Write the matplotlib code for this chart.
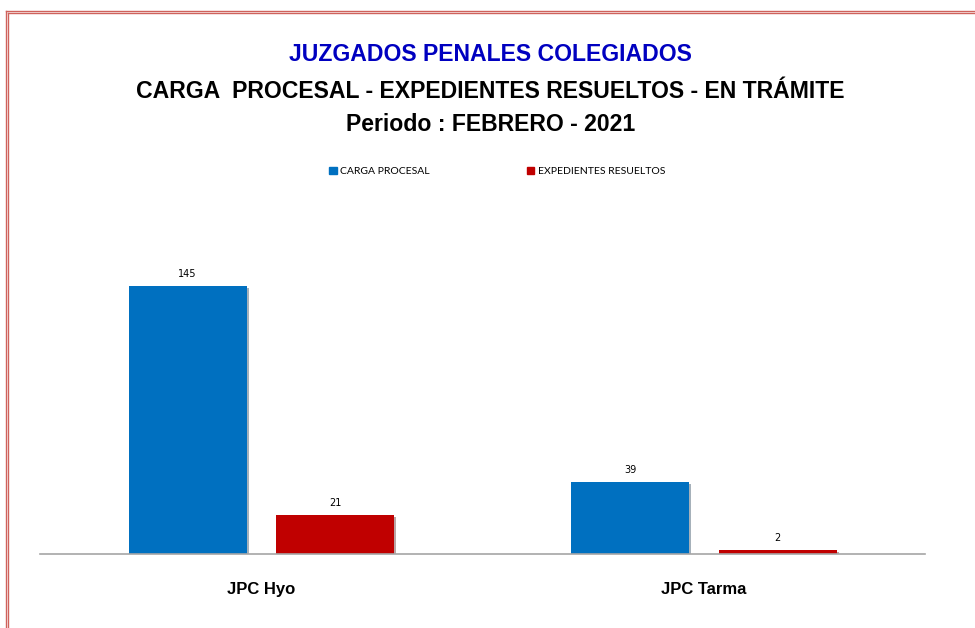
import matplotlib.pyplot as plt
import matplotlib.patheffects as pe
from matplotlib.lines import Line2D
from matplotlib.patches import Patch
import numpy as np

categories = ["JPC Hyo", "JPC Tarma"]
carga_procesal = [145, 39]
expedientes_resueltos = [21, 2]
series_names = ["CARGA PROCESAL", "EXPEDIENTES RESUELTOS"]

blue = "#0070C0"
red = "#C00000"

fig = plt.figure(figsize=(9.75, 6.28), dpi=100)
ax = fig.add_axes([0.041, 0.118, 0.908, 0.571])

x = np.arange(len(categories))
width = 0.267
offset = 0.1665
shadow = [pe.SimplePatchShadow(offset=(1.5, -1.5), alpha=0.35), pe.Normal()]

b1 = ax.bar(x - offset, carga_procesal, width, color=blue, path_effects=shadow)
b2 = ax.bar(x + offset, expedientes_resueltos, width, color=red, path_effects=shadow)

for bars in (b1, b2):
    for rect in bars:
        h = rect.get_height()
        ax.annotate(f"{h:g}", (rect.get_x() + rect.get_width() / 2, h),
                    xytext=(0, 5), textcoords="offset points",
                    ha="center", va="bottom", fontsize=7, family="DejaVu Sans")

ax.set_xlim(-0.5, 1.5)
ax.set_ylim(0, 194)
ax.set_xticks(x)
ax.set_xticklabels(categories, fontsize=12, fontweight="bold",
                   family="Liberation Sans")
ax.tick_params(axis="x", length=0, pad=20)
ax.set_yticks([])
for side in ("top", "right", "left"):
    ax.spines[side].set_visible(False)
ax.spines["bottom"].set_color("#a6a6a6")
ax.spines["bottom"].set_linewidth(1.2)

# titles
fig.text(0.503, 0.914, "JUZGADOS PENALES COLEGIADOS", ha="center", va="center",
         fontsize=16.6, fontweight="bold", color="#0000C0", family="Liberation Sans")
fig.text(0.503, 0.855, "CARGA  PROCESAL - EXPEDIENTES RESUELTOS - EN TRÁMITE",
         ha="center", va="center", fontsize=16.6, fontweight="bold",
         family="Liberation Sans")
fig.text(0.503, 0.801, "Periodo : FEBRERO - 2021", ha="center", va="center",
         fontsize=16.6, fontweight="bold", family="Liberation Sans")

handles = [Patch(color=blue), Patch(color=red)]
fig.legend(handles, series_names, loc="center", bbox_to_anchor=(0.51, 0.727),
           ncol=2, frameon=False, handlelength=0.7, handleheight=0.7,
           columnspacing=9.3, handletextpad=0.35,
           prop={"family": ["Lato", "DejaVu Sans"], "size": 7.5})

# double red border
border = "#cf625c"
lw = 1.0
fig.add_artist(Line2D([5.5 / 975] * 2, [0, 1 - 10.5 / 628], color=border, lw=lw,
                      transform=fig.transFigure))
fig.add_artist(Line2D([8 / 975] * 2, [0, 1 - 13 / 628], color=border, lw=lw,
                      transform=fig.transFigure))
fig.add_artist(Line2D([5.5 / 975, 1], [1 - 10.5 / 628] * 2, color=border, lw=lw,
                      transform=fig.transFigure))
fig.add_artist(Line2D([8 / 975, 1], [1 - 13 / 628] * 2, color=border, lw=lw,
                      transform=fig.transFigure))

fig.savefig("out.png", dpi=100)
